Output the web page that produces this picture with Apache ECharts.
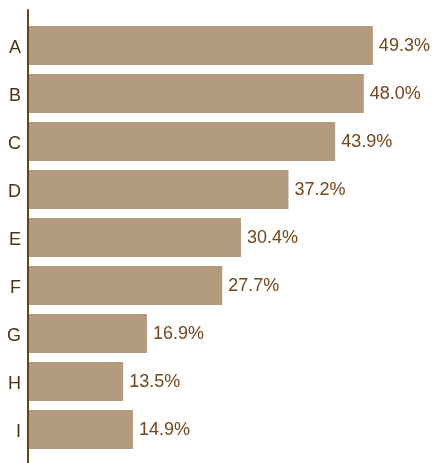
<!DOCTYPE html>
<html>
<head>
<meta charset="utf-8">
<style>
  html, body { margin: 0; padding: 0; background: #ffffff; }
  #chart { width: 434px; height: 463px; }
</style>
<script src="https://cdn.jsdelivr.net/npm/echarts@6/dist/echarts.min.js"></script>
</head>
<body>
<div id="chart"></div>
<script>
// Share of respondents per group, listed top to bottom
var categories = ['A', 'B', 'C', 'D', 'E', 'F', 'G', 'H', 'I'];
var values = [49.3, 48.0, 43.9, 37.2, 30.4, 27.7, 16.9, 13.5, 14.9];

var barColor = '#b39b7e';
var inkColor = '#6e4215';
var fontFamily = 'Liberation Sans';

var chart = echarts.init(document.getElementById('chart'), null, { renderer: 'canvas' });

chart.setOption({
  animation: false,
  backgroundColor: '#ffffff',
  grid: [
    { left: 29, top: 21.5, width: 348.75, height: 432, containLabel: false },
    // taller frame that only carries the vertical baseline
    { left: 28, top: 10, width: 1, bottom: 0, containLabel: false }
  ],
  xAxis: [
    { gridIndex: 0, type: 'value', min: 0, max: 50, show: false },
    { gridIndex: 1, type: 'value', min: 0, max: 1, show: false }
  ],
  yAxis: [
    {
      gridIndex: 0,
      type: 'category',
      data: categories,
      inverse: true,
      axisLine: { show: false },
      axisTick: { show: false },
      axisLabel: {
        margin: 8,
        formatter: '{c|{value}}',
        rich: {
          c: {
            color: '#4a3318',
            fontSize: 18,
            fontFamily: fontFamily,
            padding: [5, 0, 0, 0]
          }
        }
      },
      splitLine: { show: false }
    },
    {
      gridIndex: 1,
      type: 'value',
      min: 0,
      max: 1,
      axisLine: { show: true, lineStyle: { color: inkColor, width: 2 } },
      axisTick: { show: false },
      axisLabel: { show: false },
      splitLine: { show: false }
    }
  ],
  series: [
    {
      type: 'bar',
      xAxisIndex: 0,
      yAxisIndex: 0,
      data: values,
      barCategoryGap: '18.75%',
      itemStyle: { color: barColor },
      label: {
        show: true,
        position: 'right',
        distance: 5,
        offset: [1, 1],
        color: '#74461a',
        fontSize: 18,
        fontFamily: fontFamily,
        formatter: function (p) { return p.value.toFixed(1) + '%'; }
      }
    }
  ]
});
</script>
</body>
</html>
